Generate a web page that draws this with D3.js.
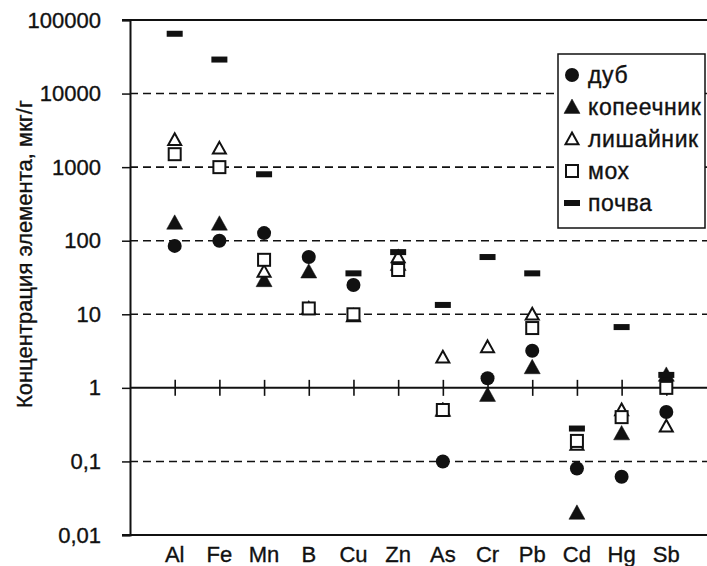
<!DOCTYPE html>
<html lang="ru">
<head>
<meta charset="UTF-8">
<script src="https://cdn.jsdelivr.net/npm/d3@7"></script>
<style>
  body { margin: 0; background: #fff; }
  text { font-family: "Liberation Sans", Arial, sans-serif; fill: #111; stroke: #111; stroke-width: 0.35px; }
</style>
</head>
<body>
<svg id="chart" width="707" height="566"></svg>
<script>
// elements on the category axis
var elements = ["Al", "Fe", "Mn", "B", "Cu", "Zn", "As", "Cr", "Pb", "Cd", "Hg", "Sb"];

// values, µg/g (null = not shown)
var dub        = [85, 100, 127, 60, 25, 40, 0.1, 1.35, 3.2, 0.08, 0.062, 0.47];
var kopeechnik = [175, 170, 29, 38, null, 48, 0.5, 0.8, 1.9, 0.02, 0.24, 1.5];
var lishainik  = [2350, 1800, 38, 12, 9.5, 60, 2.6, 3.6, 10, 0.17, 0.5, 0.3];
var mokh       = [1500, 1000, 55, 12, 10, 40, 0.5, null, 6.5, 0.19, 0.4, 1.0];
var pochva     = [65000, 29000, 800, null, 36, 70, 13.4, 60, 36, 0.28, 6.7, 1.5];

var yTicks = [0.01, 0.1, 1, 10, 100, 1000, 10000, 100000];
var gridTicks = [0.1, 10, 100, 1000, 10000];

var series = [
  { name: "дуб", values: dub, shape: "circle" },
  { name: "копеечник", values: kopeechnik, shape: "tri" },
  { name: "лишайник", values: lishainik, shape: "triOpen" },
  { name: "мох", values: mokh, shape: "square" },
  { name: "почва", values: pochva, shape: "bar" }
];

var svg = d3.select("#chart");
var plotL = 130, plotR = 711, plotT = 20, plotB = 535;

var x = d3.scaleLinear().domain([0, elements.length + 1]).range([plotL, plotR]);
var y = d3.scaleLog().domain([0.01, 100000]).range([plotB, plotT]);

function fmt(v) {
  return String(v).replace(".", ",");
}

// dashed grid
svg.append("g").selectAll("line").data(gridTicks).enter().append("line")
  .attr("x1", plotL).attr("x2", 707)
  .attr("y1", function(d) { return y(d); }).attr("y2", function(d) { return y(d); })
  .attr("stroke", "#111").attr("stroke-width", 1.6)
  .attr("stroke-dasharray", "8,5");

// frame top / bottom
svg.append("line").attr("x1", plotL - 8).attr("x2", 707).attr("y1", plotT).attr("y2", plotT)
  .attr("stroke", "#111").attr("stroke-width", 2);
svg.append("line").attr("x1", plotL - 8).attr("x2", 707).attr("y1", plotB).attr("y2", plotB)
  .attr("stroke", "#111").attr("stroke-width", 2);

// y axis
var yAxis = d3.axisLeft(y).tickValues(yTicks).tickSize(8).tickPadding(21).tickFormat(fmt);
var gy = svg.append("g").attr("transform", "translate(" + plotL + ",0)").call(yAxis);
gy.select(".domain").attr("stroke", "#111").attr("stroke-width", 2);
gy.selectAll(".tick line").attr("stroke", "#111").attr("stroke-width", 1.5);
gy.selectAll(".tick text").style("font-size", "22px").attr("fill", "#111");

// x axis crossing at 1
var xAxis = d3.axisBottom(x).tickValues(d3.range(1, elements.length + 1))
  .tickSizeInner(0).tickSizeOuter(0).tickFormat("");
var gx = svg.append("g").attr("transform", "translate(0," + y(1) + ")").call(xAxis);
gx.select(".domain").attr("stroke", "#111").attr("stroke-width", 2)
  .attr("d", "M" + plotL + ",0H707");
gx.selectAll(".tick line").attr("y1", -8).attr("y2", 8).attr("stroke", "#111").attr("stroke-width", 1.6);

// category labels at bottom
svg.append("g").selectAll("text").data(elements).enter().append("text")
  .attr("x", function(d, i) { return x(i + 1); })
  .attr("y", 562)
  .attr("text-anchor", "middle")
  .style("font-size", "22px")
  .text(function(d) { return d; });

// y label
svg.append("text")
  .attr("transform", "translate(32,254) rotate(-90)")
  .attr("text-anchor", "middle")
  .style("font-size", "22px")
  .text("Концентрация элемента, мкг/г");

function drawMarker(g, shape, cx, cy) {
  if (shape === "circle") {
    g.append("circle").attr("cx", cx).attr("cy", cy).attr("r", 7).attr("fill", "#111");
  } else if (shape === "tri" || shape === "triOpen") {
    var s = shape === "tri" ? 8 : 6.5;
    var pts = [[cx, cy - s], [cx + s, cy + s * 0.8], [cx - s, cy + s * 0.8]];
    g.append("path").attr("d", d3.line()(pts) + "Z")
      .attr("fill", shape === "tri" ? "#111" : "#fff")
      .attr("stroke", "#111").attr("stroke-width", shape === "tri" ? 0.5 : 2);
  } else if (shape === "square") {
    g.append("rect").attr("x", cx - 6).attr("y", cy - 6).attr("width", 12).attr("height", 12)
      .attr("fill", "#fff").attr("stroke", "#111").attr("stroke-width", 2);
  } else if (shape === "bar") {
    g.append("rect").attr("x", cx - 8).attr("y", cy - 3).attr("width", 16).attr("height", 6)
      .attr("fill", "#111");
  }
}

// points
series.forEach(function(s) {
  var g = svg.append("g").attr("class", "series");
  s.values.forEach(function(v, i) {
    if (v == null) return;
    drawMarker(g, s.shape, x(i + 1), y(v));
  });
});

// legend
var legend = svg.append("g");
legend.append("rect").attr("x", 558).attr("y", 54).attr("width", 147).attr("height", 174)
  .attr("fill", "#fff").attr("stroke", "#111").attr("stroke-width", 1.5);
series.forEach(function(s, i) {
  var ly = 75 + i * 32;
  drawMarker(legend, s.shape, 572, ly);
  legend.append("text").attr("x", 588).attr("y", ly + 8)
    .style("font-size", "23px").style("letter-spacing", "0.6px").text(s.name);
});
</script>
</body>
</html>
